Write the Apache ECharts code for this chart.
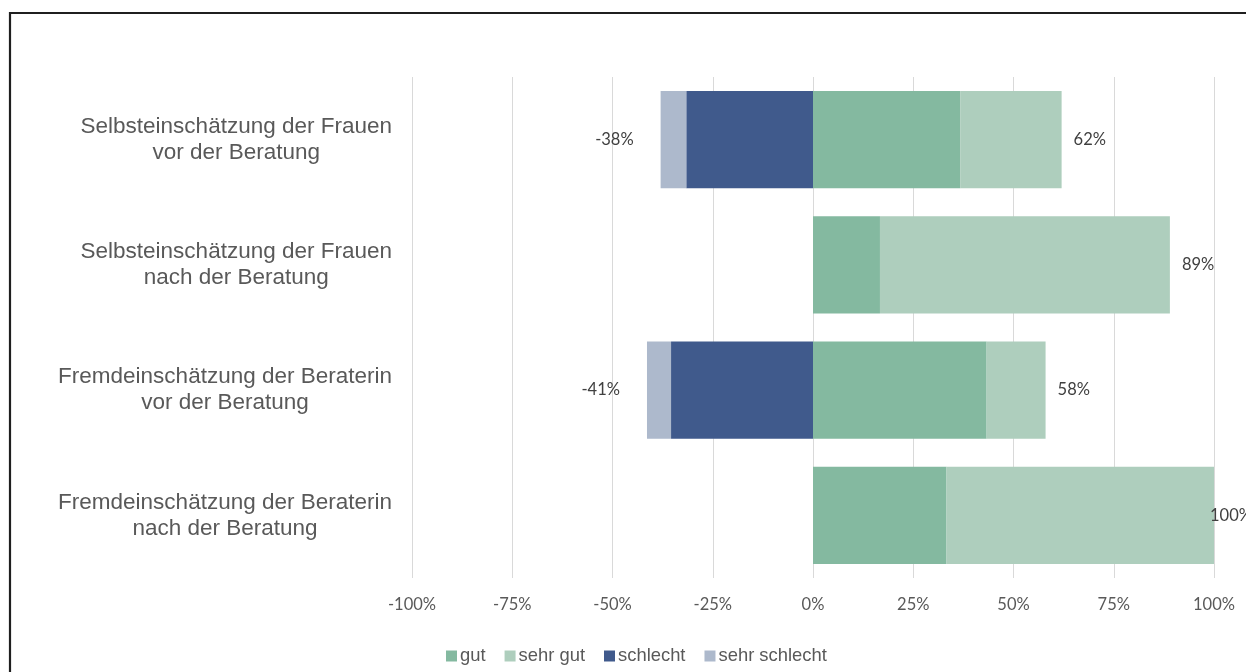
<!DOCTYPE html>
<html>
<head>
<meta charset="utf-8">
<script src="https://cdn.jsdelivr.net/npm/echarts@6/dist/echarts.min.js"></script>
<style>
  html, body { margin: 0; padding: 0; background: #fff; }
  #chart { width: 1246px; height: 672px; }
</style>
</head>
<body>
<div id="chart"></div>
<script>
// Rows of the chart, top to bottom
const categories = [
  'Selbsteinschätzung der Frauen\nvor der Beratung',
  'Selbsteinschätzung der Frauen\nnach der Beratung',
  'Fremdeinschätzung der Beraterin\nvor der Beratung',
  'Fremdeinschätzung der Beraterin\nnach der Beratung'
];

// Shares in percent; negative ratings are plotted to the left of 0
const gut          = [36.7, 16.7, 43.3, 33.3];
const sehrGut      = [25.3, 72.3, 14.7, 66.7];
const schlecht     = [-31.6, null, -35.4, null];
const sehrSchlecht = [-6.4, null, -6.0, null];

const xTicks = { min: -100, max: 100, interval: 25 };

const sansFont = '"Liberation Sans", Arial, sans-serif';
const labelFont = 'Lato, "Noto Sans", sans-serif';

// Totals shown at the outer end of each side of a bar
const posTotal = gut.map((v, i) => (v || 0) + (sehrGut[i] || 0));
const negTotal = schlecht.map((v, i) => (v || 0) + (sehrSchlecht[i] || 0));

const chart = echarts.init(document.getElementById('chart'));

const sehrGutData = sehrGut.map((v, i) => {
  const item = { value: v };
  // a label at the axis end is pulled back so it stays on the canvas
  if (posTotal[i] >= xTicks.max) item.label = { offset: [-16, 0] };
  return item;
});

chart.setOption({
  animation: false,
  backgroundColor: '#ffffff',
  graphic: [{
    type: 'rect',
    shape: { x: 10, y: 13, width: 1400, height: 800 },
    style: { fill: 'none', stroke: '#1f1f1f', lineWidth: 2.2 },
    silent: true,
    z: 100
  }],
  grid: {
    left: 412, right: 32, top: 77, bottom: 94,
    containLabel: false,
    outerBoundsMode: 'none'
  },
  legend: {
    left: 441,
    top: 642,
    itemWidth: 11,
    itemHeight: 11,
    itemGap: 19,
    icon: 'rect',
    textStyle: { fontFamily: sansFont, fontSize: 18.4, color: '#595959', padding: [0, 0, 0, -2] },
    data: ['gut', 'sehr gut', 'schlecht', 'sehr schlecht']
  },
  xAxis: {
    type: 'value',
    min: xTicks.min,
    max: xTicks.max,
    interval: xTicks.interval,
    axisLine: { show: false },
    axisTick: { show: false },
    axisLabel: {
      formatter: '{value}%',
      fontFamily: labelFont,
      fontSize: 16.5,
      color: '#595959',
      margin: 18
    },
    splitLine: { show: true, lineStyle: { color: '#d9d9d9', width: 1 } }
  },
  yAxis: {
    type: 'category',
    data: categories,
    inverse: true,
    axisLine: { show: false },
    axisTick: { show: false },
    splitLine: { show: false },
    axisLabel: {
      // block right-aligned against the plot, lines centred inside the block
      align: 'right',
      margin: 20,
      formatter: v => v.split('\n').map(line => '{c|' + line + '}').join('\n'),
      rich: {
        c: {
          align: 'center',
          fontFamily: sansFont,
          fontSize: 22.5,
          lineHeight: 26,
          color: '#595959'
        }
      }
    }
  },
  series: [
    {
      name: 'gut', type: 'bar', stack: 'total',
      barCategoryGap: '22.5%',
      itemStyle: { color: '#84b9a0' },
      data: gut
    },
    {
      name: 'sehr gut', type: 'bar', stack: 'total',
      itemStyle: { color: '#aecebd' },
      label: {
        show: true,
        position: 'right',
        distance: 12,
        fontFamily: labelFont,
        fontSize: 16.5,
        color: '#404040',
        formatter: p => Math.round(posTotal[p.dataIndex]) + '%'
      },
      data: sehrGutData
    },
    {
      name: 'schlecht', type: 'bar', stack: 'total',
      itemStyle: { color: '#405a8c' },
      data: schlecht
    },
    {
      name: 'sehr schlecht', type: 'bar', stack: 'total',
      itemStyle: { color: '#adb9cc' },
      label: {
        show: true,
        position: 'left',
        distance: 27,
        fontFamily: labelFont,
        fontSize: 16.5,
        color: '#404040',
        formatter: p => Math.round(negTotal[p.dataIndex]) + '%'
      },
      data: sehrSchlecht
    }
  ]
});
</script>
</body>
</html>
